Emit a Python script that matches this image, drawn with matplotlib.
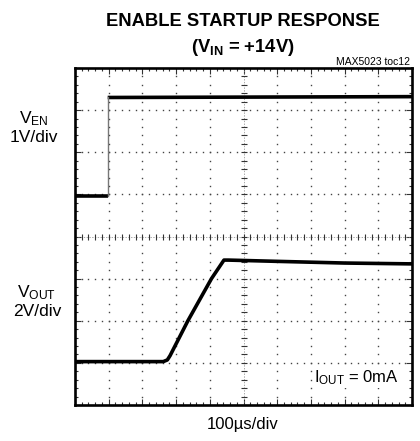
import matplotlib
matplotlib.use("Agg")
import matplotlib.pyplot as plt
import numpy as np

# scope traces, in divisions (x: 0..10, y: 0..8 from bottom)
ven_x = [0.0, 0.97, 0.97, 10.0]
ven_y = [4.97, 4.97, 7.30, 7.32]

vout_x = [0.0, 2.62, 2.74, 2.82, 3.35, 4.05, 4.42, 4.55, 6.0, 8.0, 10.0]
vout_y = [1.03, 1.03, 1.07, 1.17, 2.0, 3.0, 3.44, 3.44, 3.41, 3.37, 3.35]

N_XDIV = 10
N_YDIV = 8

plt.rcParams['font.family'] = ['Liberation Sans', 'DejaVu Sans']
plt.rcParams['mathtext.fontset'] = 'custom'
plt.rcParams['mathtext.rm'] = 'Liberation Sans'
plt.rcParams['mathtext.it'] = 'Liberation Sans'
plt.rcParams['mathtext.bf'] = 'Liberation Sans:bold'

fig = plt.figure(figsize=(4.2, 4.41), dpi=100)
ax = fig.add_axes([75 / 420, 1 - 405 / 441, 337 / 420, 337 / 441])
ax.set_xlim(0, N_XDIV)
ax.set_ylim(0, N_YDIV)

# dotted graticule
minor_x = np.arange(0, N_XDIV * 5 + 1) / 5
minor_y = np.arange(0, N_YDIV * 5 + 1) / 5
for i in range(1, N_XDIV):
    if i == N_XDIV // 2:
        continue
    ax.plot(np.full_like(minor_y, i), minor_y, ls='none', marker='s', ms=1.0, color='#444444', mew=0)
for j in range(1, N_YDIV):
    if j == N_YDIV // 2:
        continue
    ax.plot(minor_x, np.full_like(minor_x, j), ls='none', marker='s', ms=1.0, color='#444444', mew=0)

# center cross with ticks
cx, cy = N_XDIV / 2, N_YDIV / 2
ax.axhline(cy, color='#888888', lw=0.5, ls=(0, (2, 2)))
ax.axvline(cx, color='#888888', lw=0.5, ls=(0, (2, 2)))
ax.plot(minor_x, np.full_like(minor_x, cy), ls='none', marker='|', ms=4, mew=0.8, color='#333333')
ax.plot(np.full_like(minor_y, cx), minor_y, ls='none', marker='_', ms=4, mew=0.8, color='#333333')

# traces
ax.plot(ven_x[:2], ven_y[:2], color='black', lw=2.6, solid_capstyle='butt')
ax.plot(ven_x[2:], ven_y[2:], color='black', lw=2.6, solid_capstyle='butt')
ax.plot(ven_x[1:3], ven_y[1:3], color='#777777', lw=1.0)
ax.plot(vout_x, vout_y, color='black', lw=2.6, solid_joinstyle='round')

# frame and edge ticks
for s in ax.spines.values():
    s.set_linewidth(1.9)
ax.set_xticks(np.arange(0, N_XDIV + 1))
ax.set_yticks(np.arange(0, N_YDIV + 1))
ax.set_xticks(minor_x, minor=True)
ax.set_yticks(minor_y, minor=True)
ax.tick_params(which='both', direction='in', top=True, right=True,
               labelbottom=False, labelleft=False, color='#333333')
ax.tick_params(which='major', length=4, width=0.8)
ax.tick_params(which='minor', length=2.5, width=0.8)

# text
fig.text(243 / 420, 1 - 22 / 441, 'ENABLE STARTUP RESPONSE', ha='center', va='center',
         fontsize=13.2, fontweight='bold')
fig.text(243 / 420, 1 - 48 / 441, r'(V$_{\mathbf{IN}}$ = +14V)', ha='center', va='center',
         fontsize=13.2, fontweight='bold')
fig.text(410 / 420, 1 - 62 / 441, 'MAX5023 toc12', ha='right', va='center', fontsize=7.5)

fig.text(34 / 420, 1 - 119 / 441, r'V$_{\mathrm{EN}}$', ha='center', va='center', fontsize=12.5)
fig.text(34 / 420, 1 - 137 / 441, '1V/div', ha='center', va='center', fontsize=12.5)
fig.text(37 / 420, 1 - 293 / 441, r'V$_{\mathrm{OUT}}$', ha='center', va='center', fontsize=12.5)
fig.text(37 / 420, 1 - 312 / 441, '2V/div', ha='center', va='center', fontsize=12.5)
fig.text(243 / 420, 1 - 425 / 441, '100µs/div', ha='center', va='center', fontsize=12)

ax.text(9.62, 0.65, r'I$_{\mathrm{OUT}}$ = 0mA', ha='right', va='center', fontsize=12,
        bbox=dict(facecolor='white', edgecolor='none', pad=1))

fig.savefig('out.png', dpi=100)
